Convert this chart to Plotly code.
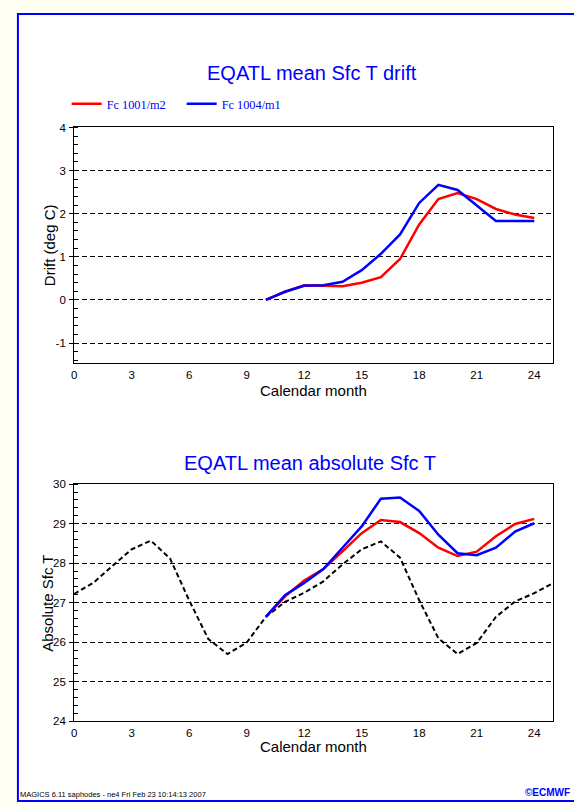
import plotly.graph_objects as go

W, H = 574, 810

# --- data ---
months_fc = list(range(10, 25))
months_clim = list(range(0, 26))

drift_1001 = [0.0, 0.19, 0.34, 0.33, 0.32, 0.40, 0.53, 0.95, 1.75, 2.34, 2.48, 2.34, 2.11, 1.98, 1.90]
drift_1004 = [0.0, 0.19, 0.33, 0.34, 0.42, 0.69, 1.07, 1.52, 2.25, 2.67, 2.55, 2.19, 1.83, 1.83, 1.83]

abs_1001 = [26.64, 27.16, 27.56, 27.85, 28.30, 28.76, 29.09, 29.04, 28.76, 28.39, 28.18, 28.29, 28.68, 28.99, 29.12]
abs_1004 = [26.64, 27.19, 27.50, 27.85, 28.39, 28.93, 29.63, 29.66, 29.32, 28.72, 28.25, 28.20, 28.39, 28.80, 29.01]
abs_clim = [27.22, 27.50, 27.93, 28.35, 28.57, 28.12, 27.06, 26.08, 25.70, 25.99, 26.64, 27.02, 27.25,
            27.54, 27.97, 28.35, 28.55, 28.14, 27.06, 26.10, 25.70, 25.98, 26.64, 27.03, 27.24, 27.50]

month_ticks = list(range(0, 25, 3))
drift_ticks = [-1, 0, 1, 2, 3, 4]
drift_ticktext = ['-1', '0', '1', '2', '3', '4']
abs_ticks = [24, 25, 26, 27, 28, 29, 30]


def px_x(p):
    return p / W


def px_y(p):
    return 1 - p / H


fig = go.Figure()

# top panel
fig.add_trace(go.Scatter(x=months_fc, y=drift_1001, mode='lines', name='Fc 1001/m2',
                         line=dict(color='#ff0000', width=2.5), xaxis='x', yaxis='y'))
fig.add_trace(go.Scatter(x=months_fc, y=drift_1004, mode='lines', name='Fc 1004/m1',
                         line=dict(color='#0000ff', width=2.5), xaxis='x', yaxis='y'))

# bottom panel
fig.add_trace(go.Scatter(x=months_clim, y=abs_clim, mode='lines', showlegend=False,
                         line=dict(color='black', width=2, dash='5px,3px'), xaxis='x2', yaxis='y2'))
fig.add_trace(go.Scatter(x=months_fc, y=abs_1001, mode='lines', showlegend=False,
                         line=dict(color='#ff0000', width=2.5), xaxis='x2', yaxis='y2'))
fig.add_trace(go.Scatter(x=months_fc, y=abs_1004, mode='lines', showlegend=False,
                         line=dict(color='#0000ff', width=2.5), xaxis='x2', yaxis='y2'))

tickfont = dict(family='Liberation Sans, Arial', size=11.5, color='black')

xcommon = dict(range=[0, 25], tickvals=month_ticks, ticks='', showgrid=False, zeroline=False,
               showline=True, linecolor='black', linewidth=1, mirror=True, tickfont=tickfont,
               ticklabelstandoff=1)
ycommon = dict(ticks='outside', ticklen=4, tickcolor='black', showgrid=True,
               gridcolor='black', gridwidth=1, griddash='5px,3px', zeroline=False,
               showline=True, linecolor='black', linewidth=1, mirror=True, tickfont=tickfont,
               ticklabelstandoff=1,
               minor=dict(dtick=0.2, ticks='inside', ticklen=4, tickcolor='black', showgrid=False))

x_dom = [px_x(71.5), px_x(553.3)]

fig.update_layout(
    width=W, height=H,
    margin=dict(l=0, r=0, t=0, b=0),
    paper_bgcolor='#fffff4',
    plot_bgcolor='white',
    xaxis=dict(domain=x_dom, anchor='y', **xcommon),
    yaxis=dict(domain=[px_y(362.7), px_y(123.3)], anchor='x', range=[-1.47, 4],
               tickvals=drift_ticks, ticktext=drift_ticktext, **ycommon),
    xaxis2=dict(domain=x_dom, anchor='y2', **xcommon),
    yaxis2=dict(domain=[px_y(726), px_y(485.3)], anchor='x2', range=[24, 30],
                tickvals=abs_ticks, **ycommon),
    legend=dict(orientation='h', x=px_x(64), y=px_y(99.3), xanchor='left', yanchor='middle',
                font=dict(family='Liberation Serif, Times New Roman', size=12.3, color='#0000ff'),
                bgcolor='rgba(0,0,0,0)', entrywidth=70, entrywidthmode='pixels'),
    showlegend=True,
)

# frame around the page
fig.add_shape(type='rect', xref='paper', yref='paper', x0=px_x(15), x1=1.05, y0=px_y(807), y1=px_y(8),
              line=dict(color='#0000ff', width=2), fillcolor='white', layer='below')

title_font = dict(family='Liberation Sans, Arial', size=20, color='#0000ff')
label_font = dict(family='Liberation Sans, Arial', size=15, color='black')

ann = [
    dict(text='EQATL mean Sfc T drift', x=px_x(311), y=px_y(68), font=title_font),
    dict(text='EQATL mean absolute Sfc T', x=px_x(309), y=px_y(464), font=title_font),
    dict(text='Calendar month', x=px_x(312), y=px_y(390), font=label_font),
    dict(text='Calendar month', x=px_x(312), y=px_y(752), font=label_font),
    dict(text='Drift (deg C)', x=px_x(47), y=px_y(243), font=label_font, textangle=-90),
    dict(text='Absolute Sfc T', x=px_x(44), y=px_y(606), font=label_font, textangle=-90),
    dict(text='MAGICS 6.11 saphodes - ne4 Fri Feb 23 10:14:13 2007', x=px_x(15.5), y=px_y(800),
         xanchor='left', font=dict(family='Liberation Sans, Arial', size=7.5, color='black')),
    dict(text='<b>©ECMWF</b>', x=px_x(572), y=px_y(798), xanchor='right',
         font=dict(family='Liberation Sans, Arial', size=10, color='#0000ff')),
]
for a in ann:
    a.setdefault('xanchor', 'center')
    fig.add_annotation(xref='paper', yref='paper', yanchor='middle', showarrow=False, **a)

fig.write_html('out.html', config={'displayModeBar': False},
               post_script="document.body.style.margin='0';document.body.style.overflow='hidden';")
